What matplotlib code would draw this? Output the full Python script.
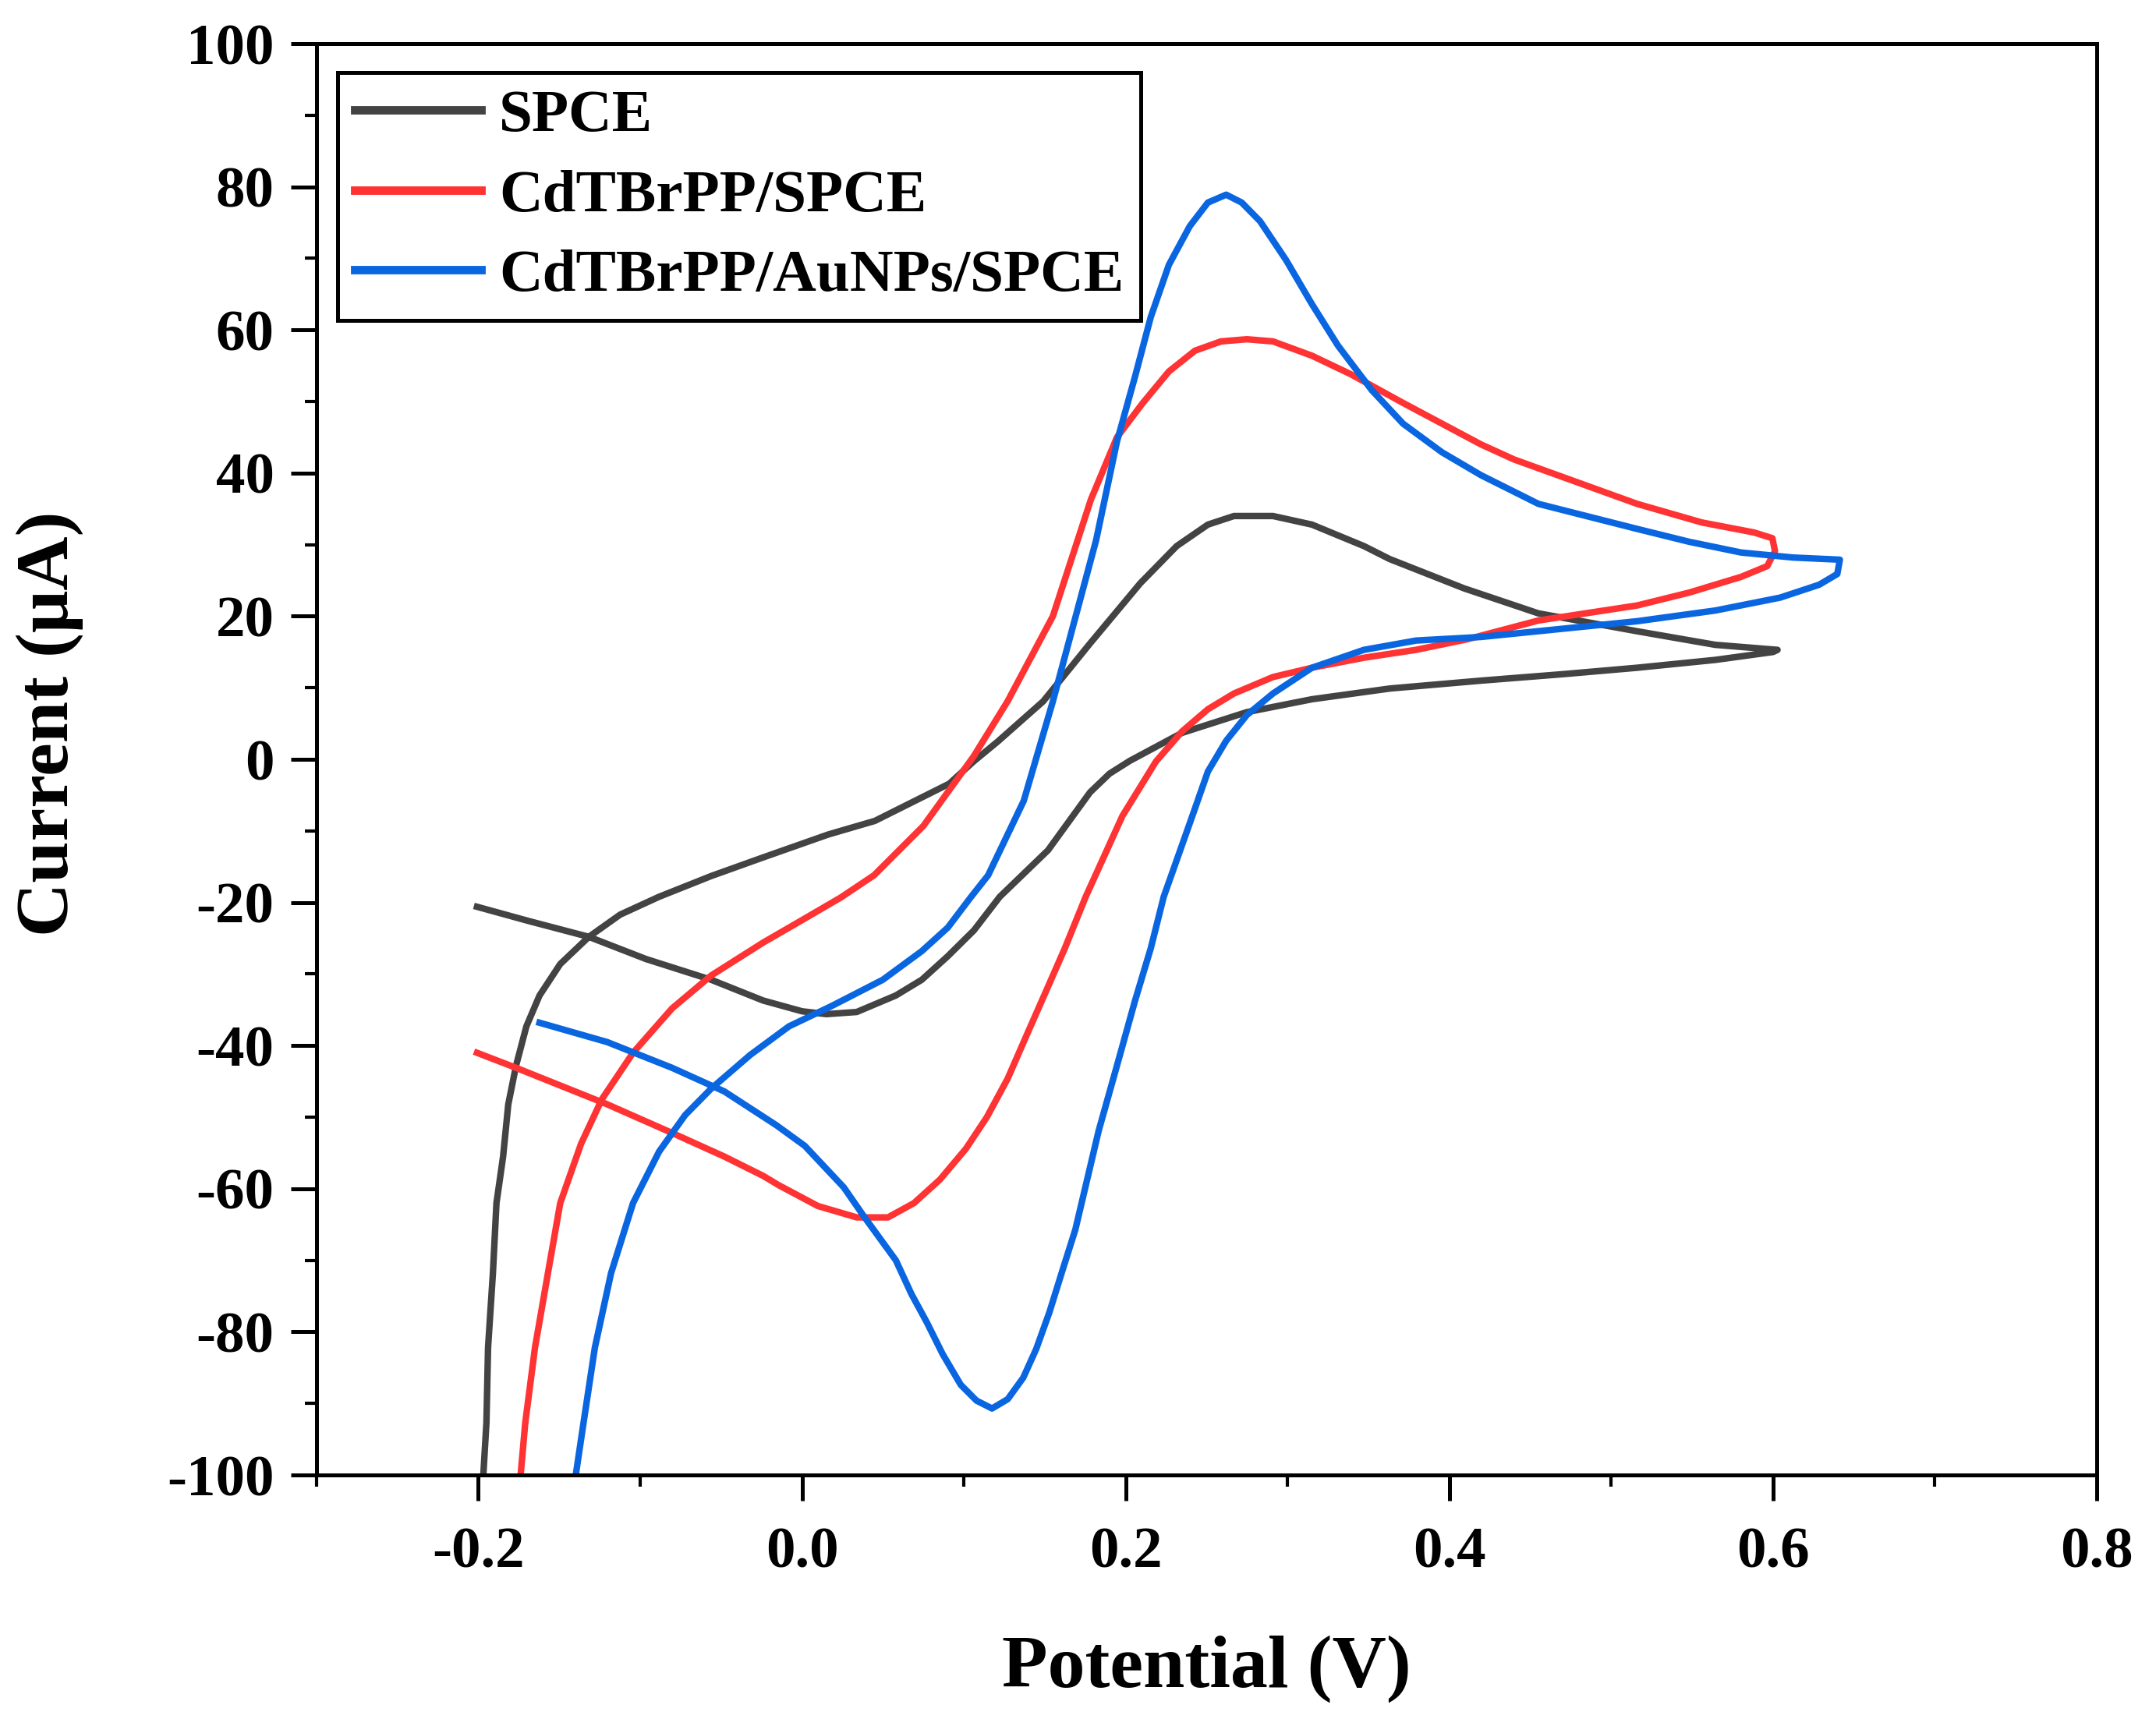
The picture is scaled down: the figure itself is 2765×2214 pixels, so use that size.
import numpy as np
import matplotlib
matplotlib.use('Agg')
import matplotlib.pyplot as plt
from matplotlib.ticker import AutoMinorLocator

plt.rcParams['font.family'] = ['Liberation Serif', 'DejaVu Serif']
plt.rcParams['font.weight'] = 'bold'
plt.rcParams['axes.unicode_minus'] = False

# ---- data (potential in V, current in uA) ----
# each curve is one closed CV loop, listed in drawing order
spce_v = [-0.2008, -0.1687, -0.1317, -0.0964, -0.0561, -0.024, 0.0, 0.015, 0.0338, 0.0579,
          0.074, 0.0901, 0.1062, 0.1222, 0.152, 0.178, 0.19, 0.2026, 0.2348,
          0.2749, 0.3151, 0.3633, 0.4196, 0.47, 0.516, 0.5644, 0.600, 0.6028, 0.5644,
          0.516, 0.455, 0.409, 0.363, 0.3472, 0.3151, 0.291, 0.2669, 0.2508, 0.2315,
          0.209, 0.178, 0.149, 0.121, 0.106, 0.091, 0.045, 0.0162, -0.024, -0.0561,
          -0.0883, -0.1124, -0.1317, -0.1494, -0.1622, -0.1703, -0.1767, -0.1815, -0.1847, -0.1888,
          -0.191, -0.194, -0.195, -0.197]
spce_i = [-20.6, -22.6, -24.8, -27.9, -30.8, -33.7, -35.2, -35.6, -35.3, -33.0,
          -30.8, -27.5, -23.9, -19.2, -12.7, -4.6, -2.0, -0.2, 3.7,
          6.6, 8.4, 9.9, 11.0, 11.9, 12.8, 13.9, 15.0, 15.3, 16.0,
          17.9, 20.4, 23.9, 28.0, 29.8, 32.8, 34.0, 34.0, 32.8, 29.8,
          24.6, 16.2, 8.1, 2.5, -0.3, -3.4, -8.6, -10.5, -13.7, -16.3,
          -19.2, -21.7, -24.8, -28.6, -33.0, -37.3, -42.8, -48.2, -55.5, -62.0,
          -71.8, -82.2, -92.7, -100.3]

cd_v = [-0.2008, -0.1767, -0.1204, -0.0803, -0.048, -0.024, -0.0144, 0.0097, 0.0338, 0.0531,
        0.0692, 0.0853, 0.1013, 0.1142, 0.1271, 0.1383, 0.1496, 0.1624, 0.1753, 0.198,
        0.2187, 0.2348, 0.2508, 0.2669, 0.291, 0.3151, 0.3472, 0.3794, 0.4115, 0.455,
        0.516, 0.5482, 0.5803, 0.5964, 0.6012, 0.5996, 0.5883, 0.556, 0.516, 0.44,
        0.4196, 0.3714, 0.3392, 0.3151, 0.291, 0.2749, 0.2589, 0.2428, 0.2267, 0.2106,
        0.1946, 0.1785, 0.155, 0.127, 0.106, 0.075, 0.0445, 0.024, -0.0018, -0.024,
        -0.0561, -0.0803, -0.1044, -0.1237, -0.1365, -0.1494, -0.157, -0.165, -0.171, -0.174]
cd_i = [-41.0, -43.1, -48.2, -52.2, -55.5, -58.2, -59.5, -62.4, -64.0, -64.0,
        -62.0, -58.7, -54.4, -50.0, -44.6, -38.8, -33.0, -26.4, -19.2, -7.9,
        -0.3, 3.9, 7.0, 9.2, 11.5, 12.8, 14.2, 15.3, 16.8, 19.4,
        21.5, 23.3, 25.5, 27.0, 29.1, 30.9, 31.7, 33.1, 35.7, 41.9,
        44.0, 49.8, 53.8, 56.4, 58.4, 58.7, 58.4, 57.1, 54.2, 49.8,
        45.0, 36.3, 20.0, 8.1, 0.4, -9.3, -16.2, -19.3, -22.7, -25.6,
        -30.2, -34.8, -41.0, -47.5, -53.7, -62.0, -71.8, -82.2, -92.7, -100.3]

au_v = [-0.1622, -0.1204, -0.0803, -0.048, -0.016, 0.0017, 0.0258, 0.0387, 0.058, 0.0676,
        0.0772, 0.0869, 0.0981, 0.1078, 0.1174, 0.1271, 0.1367, 0.1447, 0.1528, 0.1608,
        0.1689, 0.1833, 0.1946, 0.2058, 0.2155, 0.2235, 0.2412, 0.2508, 0.2621,
        0.2749, 0.291, 0.3151, 0.3472, 0.3794, 0.4196, 0.516, 0.5644, 0.6044, 0.6285,
        0.6397, 0.6413, 0.6124, 0.5803, 0.5482, 0.516, 0.455, 0.4196, 0.3955, 0.3714,
        0.352, 0.3312, 0.3151, 0.299, 0.283, 0.2717, 0.2621, 0.2508, 0.2396, 0.2267,
        0.2155, 0.2058, 0.1946, 0.1817, 0.155, 0.137, 0.115, 0.1045, 0.0901,
        0.074, 0.0499, 0.018, -0.008, -0.032, -0.0561, -0.0722, -0.0883, -0.1044, -0.118,
        -0.128, -0.135, -0.140]
au_i = [-36.8, -39.5, -43.1, -46.4, -51.1, -54.0, -59.8, -64.0, -70.0, -74.7,
        -78.7, -83.1, -87.4, -89.6, -90.7, -89.4, -86.4, -82.4, -77.3, -71.5,
        -65.7, -51.9, -42.8, -33.7, -26.4, -19.2, -7.9, -1.7, 2.6,
        6.2, 9.2, 12.8, 15.3, 16.6, 17.1, 19.3, 20.8, 22.6, 24.4,
        25.9, 27.9, 28.2, 28.9, 30.4, 32.2, 35.7, 39.7, 42.9, 46.9,
        51.6, 57.8, 63.6, 69.8, 75.2, 77.8, 78.9, 77.8, 74.5, 69.1,
        61.8, 53.5, 44.4, 30.6, 8.1, -5.8, -16.2, -19.2, -23.5,
        -26.8, -30.8, -34.5, -37.3, -41.3, -46.0, -49.7, -54.8, -62.0, -71.8,
        -82.2, -92.7, -100.3]

labels = ['SPCE', 'CdTBrPP/SPCE', 'CdTBrPP/AuNPs/SPCE']
colors = ['#434343', '#ff3333', '#0a66e0']
x_ticks = [-0.2, 0.0, 0.2, 0.4, 0.6, 0.8]
y_ticks = [-100, -80, -60, -40, -20, 0, 20, 40, 60, 80, 100]

# ---- plot ----
fig = plt.figure(figsize=(2765 / 300, 2214 / 300), dpi=300)
ax = fig.add_axes([0.1468, 0.1454, 0.8257, 0.8293])

for v, i, lab, c in zip([spce_v, cd_v, au_v], [spce_i, cd_i, au_i], labels, colors):
    ax.plot(v, i, color=c, lw=2.0, label=lab, solid_joinstyle='round')

ax.set_xlim(-0.3, 0.8)
ax.set_ylim(-100, 100)
ax.set_xticks(x_ticks)
ax.set_xticklabels(['%.1f' % t for t in x_ticks])
ax.set_yticks(y_ticks)
ax.xaxis.set_minor_locator(AutoMinorLocator(2))
ax.yaxis.set_minor_locator(AutoMinorLocator(2))
ax.tick_params(which='major', direction='out', length=8, width=1.2, labelsize=18)
ax.tick_params(which='minor', direction='out', length=3.5, width=1.0)
ax.tick_params(axis='x', which='major', pad=8)
ax.tick_params(axis='y', which='major', pad=5)
for s in ax.spines.values():
    s.set_linewidth(1.2)

ax.set_xlabel('Potential (V)', fontsize=23, fontweight='bold')
ax.set_ylabel('Current (μA)', fontsize=23, fontweight='bold')
ax.xaxis.set_label_coords(0.5, -0.112)
ax.yaxis.set_label_coords(-0.131, 0.525)

leg = ax.legend(loc='upper left', bbox_to_anchor=(0.012, 0.98), borderaxespad=0,
                fontsize=18.5, handlelength=2.1, handletextpad=0.3, labelspacing=0.42,
                borderpad=0.28, fancybox=False, framealpha=1, edgecolor='black')
leg.get_frame().set_linewidth(1.2)
for line in leg.get_lines():
    line.set_linewidth(2.6)

fig.savefig('out.png', dpi=300)
